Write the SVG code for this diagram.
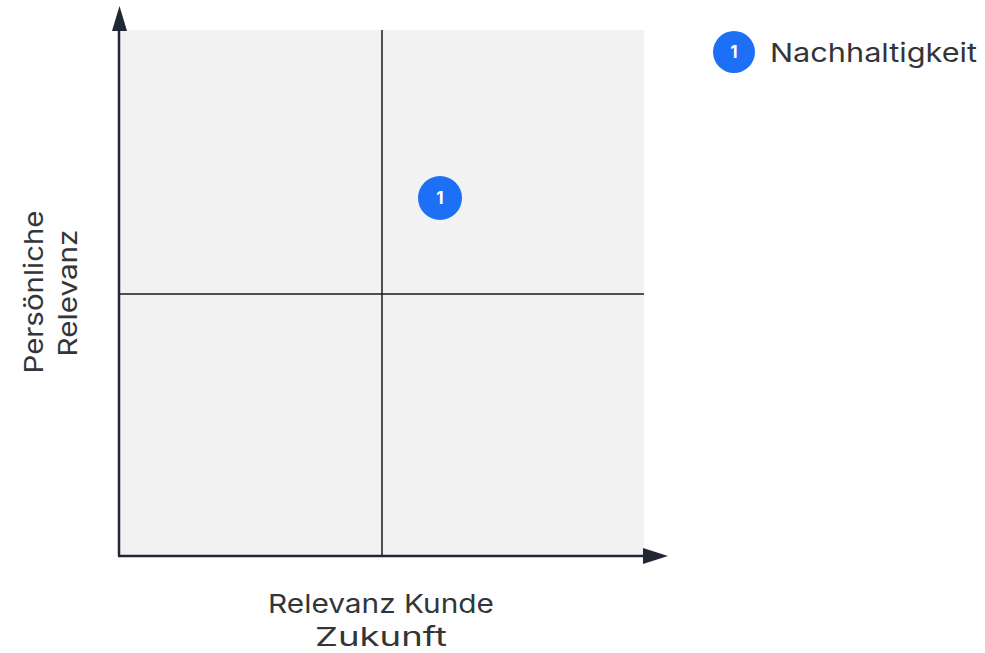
<svg xmlns="http://www.w3.org/2000/svg" width="985" height="653" viewBox="0 0 985 653">
<style>
.lbl{font-family:Inter,"Liberation Sans",sans-serif;font-size:26px;fill:#333639;}
.ax{stroke:#222833;stroke-width:2.5;fill:none;}
.mid{stroke:#1a1a1a;stroke-width:1.5;}
.badge{fill:#1d6ff5;}
.num{font-family:Inter,"Liberation Sans",sans-serif;font-size:17px;font-weight:bold;fill:#fff;text-anchor:middle;}
</style>
<rect width="985" height="653" fill="#ffffff"/>
<g id="plot">
<rect x="120" y="30" width="524" height="526" fill="#f2f2f2"/>
</g>
<g id="connectors">
<line class="mid" x1="382" y1="30" x2="382" y2="556"/>
<line class="mid" x1="120" y1="294" x2="644" y2="294"/>
<line class="ax" x1="119" y1="28" x2="119" y2="556"/>
<line class="ax" x1="118" y1="556" x2="646" y2="556"/>
<polygon points="112,31 119.5,6 127,31" fill="#222833"/>
<polygon points="643,548 668,556 643,564" fill="#222833"/>
</g>
<g id="point1">
<circle class="badge" cx="440" cy="198" r="22"/>
<text class="num" x="440" y="204">1</text>
</g>
<g id="legend">
<circle class="badge" cx="734" cy="52" r="21"/>
<text class="num" x="734" y="58">1</text>
<text class="lbl" x="770" y="62" textLength="207" lengthAdjust="spacingAndGlyphs">Nachhaltigkeit</text>
</g>
<g id="ylabel">
<text class="lbl" text-anchor="middle" transform="translate(43,292) rotate(-90)" textLength="163" lengthAdjust="spacingAndGlyphs">Persönliche</text>
<text class="lbl" text-anchor="middle" transform="translate(77,293) rotate(-90)" textLength="127" lengthAdjust="spacingAndGlyphs">Relevanz</text>
</g>
<g id="xlabel">
<text class="lbl" text-anchor="middle" x="381" y="613" textLength="226" lengthAdjust="spacingAndGlyphs">Relevanz Kunde</text>
<text class="lbl" text-anchor="middle" x="381" y="646" textLength="132" lengthAdjust="spacingAndGlyphs">Zukunft</text>
</g>
</svg>
